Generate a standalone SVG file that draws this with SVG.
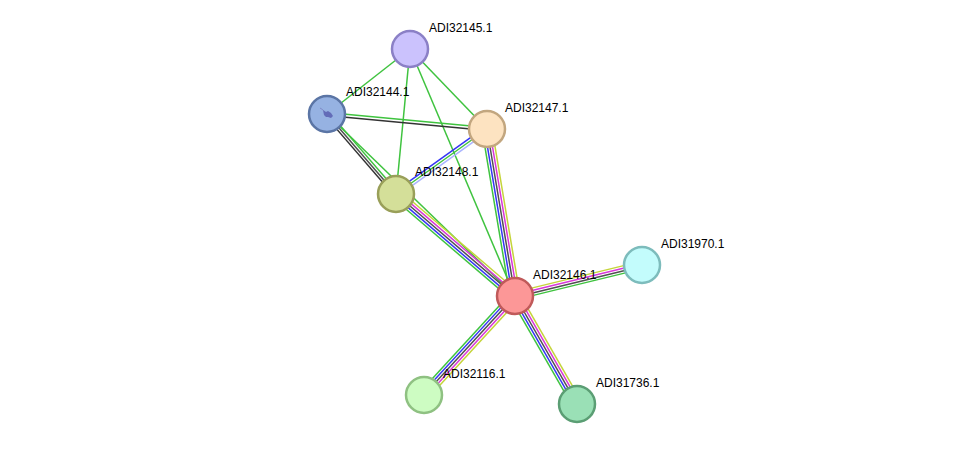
<svg xmlns="http://www.w3.org/2000/svg" width="975" height="450" viewBox="0 0 975 450">
<style>
.e line{stroke-width:1.5;fill:none}
.g{stroke:#3fc33f}
.b{stroke:#3535f5}
.d{stroke:#505050}
.k{stroke:#333333}
.m{stroke:#d936d9}
.y{stroke:#c5d43a}
.lb{stroke:#aab4ff}
.n circle{stroke-width:2.5}
text{font-family:"Liberation Sans",Arial,sans-serif;font-size:12px;fill:#000}
</style>
<rect width="975" height="450" fill="#ffffff"/>
<g id="connectors" class="e">
  <g transform="translate(410,49) rotate(141.93)"><line class="g" x1="0" y1="0" x2="105.4" y2="0"/></g>
  <g transform="translate(410,49) rotate(46.1)"><line class="g" x1="0" y1="0" x2="111" y2="0"/></g>
  <g transform="translate(410,49) rotate(95.5)"><line class="g" x1="0" y1="0" x2="145.7" y2="0"/></g>
  <g transform="translate(410,49) rotate(67)"><line class="g" x1="0" y1="0" x2="268.4" y2="0"/></g>
  <g transform="translate(327,114) rotate(5.36)">
    <line class="g" x1="0" y1="-1.5" x2="160.7" y2="-1.5"/>
    <line class="k" x1="0" y1="1.5" x2="160.7" y2="1.5"/>
  </g>
  <g transform="translate(327,114) rotate(44.07)"><line class="g" x1="0" y1="0" x2="261.7" y2="0"/></g>
  <g transform="translate(327,114) rotate(49.23)">
    <line class="g" x1="0" y1="-2.5" x2="105.6" y2="-2.5"/>
    <line class="d" x1="0" y1="0" x2="105.6" y2="0"/>
    <line class="k" x1="0" y1="2.5" x2="105.6" y2="2.5"/>
  </g>
  <g transform="translate(396,194) rotate(-35.54)">
    <line class="b" x1="0" y1="-2.5" x2="111.8" y2="-2.5"/>
    <line class="g" x1="0" y1="0" x2="111.8" y2="0"/>
    <line class="lb" x1="0" y1="2.5" x2="111.8" y2="2.5"/>
  </g>
  <g transform="translate(487,129) rotate(80.48)">
    <line class="g" x1="0" y1="5" x2="169.3" y2="5"/>
    <line class="b" x1="0" y1="2.5" x2="169.3" y2="2.5"/>
    <line class="d" x1="0" y1="0" x2="169.3" y2="0"/>
    <line class="m" x1="0" y1="-2.5" x2="169.3" y2="-2.5"/>
    <line class="y" x1="0" y1="-5" x2="169.3" y2="-5"/>
  </g>
  <g transform="translate(396,194) rotate(40.6)">
    <line class="g" x1="0" y1="5" x2="156.7" y2="5"/>
    <line class="b" x1="0" y1="2.5" x2="156.7" y2="2.5"/>
    <line class="d" x1="0" y1="0" x2="156.7" y2="0"/>
    <line class="m" x1="0" y1="-2.5" x2="156.7" y2="-2.5"/>
    <line class="y" x1="0" y1="-5" x2="156.7" y2="-5"/>
  </g>
  <g transform="translate(515,296) rotate(-13.72)">
    <line class="y" x1="0" y1="-3.75" x2="130.7" y2="-3.75"/>
    <line class="m" x1="0" y1="-1.25" x2="130.7" y2="-1.25"/>
    <line class="d" x1="0" y1="1.25" x2="130.7" y2="1.25"/>
    <line class="g" x1="0" y1="3.75" x2="130.7" y2="3.75"/>
  </g>
  <g transform="translate(515,296) rotate(132.59)">
    <line class="g" x1="0" y1="5" x2="134.5" y2="5"/>
    <line class="b" x1="0" y1="2.5" x2="134.5" y2="2.5"/>
    <line class="d" x1="0" y1="0" x2="134.5" y2="0"/>
    <line class="m" x1="0" y1="-2.5" x2="134.5" y2="-2.5"/>
    <line class="y" x1="0" y1="-5" x2="134.5" y2="-5"/>
  </g>
  <g transform="translate(515,296) rotate(60.14)">
    <line class="g" x1="0" y1="5" x2="124.5" y2="5"/>
    <line class="b" x1="0" y1="2.5" x2="124.5" y2="2.5"/>
    <line class="d" x1="0" y1="0" x2="124.5" y2="0"/>
    <line class="m" x1="0" y1="-2.5" x2="124.5" y2="-2.5"/>
    <line class="y" x1="0" y1="-5" x2="124.5" y2="-5"/>
  </g>
</g>
<g id="ADI32145.1" class="n"><circle cx="410" cy="49" r="18" fill="#cbc2fd" stroke="#8b80c6"/><text x="429" y="32">ADI32145.1</text></g>
<g id="ADI32144.1" class="n"><circle cx="327" cy="114" r="18" fill="#96b2e2" stroke="#5b75a5"/><path d="M323,110 l3,2 l2,-1 l3,2 l2,3 l-2,2 l-3,-1 l-2,0 l-2,-2 z" fill="#5a5fb0" opacity="0.85"/><path d="M320,108 q2,1 4,3" stroke="#7a7fc0" stroke-width="0.8" fill="none"/><text x="346" y="96">ADI32144.1</text></g>
<g id="ADI32147.1" class="n"><circle cx="487" cy="129" r="18" fill="#fde3c1" stroke="#c2a67f"/><text x="505" y="112">ADI32147.1</text></g>
<g id="ADI32148.1" class="n"><circle cx="396" cy="194" r="18" fill="#d4df99" stroke="#999f59"/><text x="415" y="176">ADI32148.1</text></g>
<g id="ADI32146.1" class="n"><circle cx="515" cy="296" r="18" fill="#fc9797" stroke="#c05a5a"/><text x="533" y="279">ADI32146.1</text></g>
<g id="ADI31970.1" class="n"><circle cx="642" cy="265" r="18" fill="#c3fcfc" stroke="#7dbcbc"/><text x="661" y="248">ADI31970.1</text></g>
<g id="ADI32116.1" class="n"><circle cx="424" cy="395" r="18" fill="#cdfcc2" stroke="#8fc182"/><text x="443" y="378">ADI32116.1</text></g>
<g id="ADI31736.1" class="n"><circle cx="577" cy="404" r="18" fill="#9ae0b6" stroke="#5b9e74"/><text x="596" y="387">ADI31736.1</text></g>
</svg>
